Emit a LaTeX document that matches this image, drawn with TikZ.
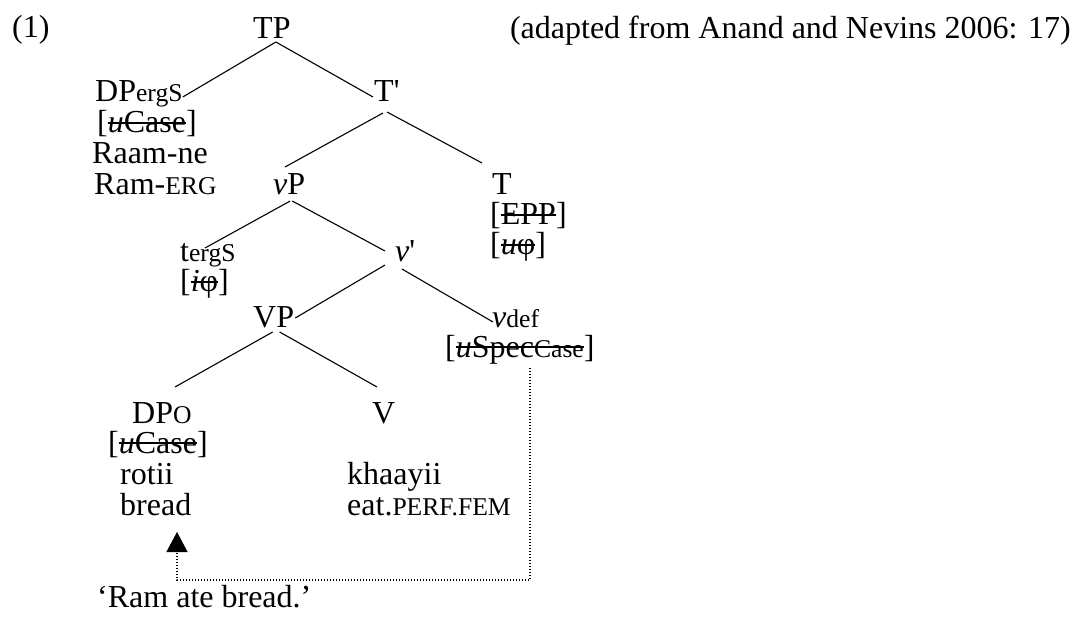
\documentclass[tikz,border=0pt]{standalone}
\usepackage{fontspec}
\setmainfont{Liberation Serif}
\usetikzlibrary{arrows.meta}
\newsavebox\stkbox
\newcommand\strk[1]{\sbox\stkbox{#1}\rlap{\usebox\stkbox}\rule[0.28em]{\wd\stkbox}{1.7pt}}
\newcommand\smc[1]{{\fontsize{25.6}{25.6}\selectfont #1}}
\begin{document}
\begin{tikzpicture}[x=1pt,y=-1pt,
  lbl/.style={inner sep=0pt, anchor=base west, font=\fontsize{32}{32}\selectfont},
  branch/.style={line width=1.1pt},
  dotline/.style={line width=1.3pt, dash pattern=on 1.3pt off 1.7pt}]
\useasboundingbox (0,0) rectangle (1075,617);
% header
\node[lbl] (ex) at (12,38) {(1)};
\node[lbl] (TP) at (253,39) {TP};
\node[lbl, anchor=base east] (src) at (1071,39) {(adapted from Anand and Nevins 2006: 17)};
% DP erg
\node[lbl] (DPe) at (95,102) {DP\smc{ergS}};
\node[lbl] (uc1) at (97,133) {[\strk{\textit{u}Case}]};
\node[lbl] (raam) at (92,164) {Raam-ne};
\node[lbl] (ramerg) at (94,195) {Ram-\smc{ERG}};
% T'
\node[lbl] (Tbar) at (374,102) {T\textquotesingle};
% vP, T
\node[lbl] (vP) at (273,195) {\textit{v}P};
\node[lbl] (T) at (492,195) {T};
\node[lbl] (epp) at (490,225) {[\strk{EPP}]};
\node[lbl] (uphi) at (490,255) {[\strk{\textit{u}φ}]};
% t erg, v'
\node[lbl] (terg) at (180,262) {t\smc{ergS}};
\node[lbl] (iphi) at (180,292) {[\strk{\textit{i}φ}]};
\node[lbl] (vbar) at (395,262) {\textit{v}\textquotesingle};
% VP, vdef
\node[lbl] (VP) at (253,327) {VP};
\node[lbl] (vdef) at (492,327) {\textit{v}\smc{def}};
\node[lbl] (usc) at (445,357) {[\strk{\textit{u}Spec\smc{Case}}]};
% DPo, V
\node[lbl] (DPo) at (132,423) {DP\smc{O}};
\node[lbl] (uc2) at (108,453) {[\strk{\textit{u}Case}]};
\node[lbl] (rotii) at (120,484) {rotii};
\node[lbl] (bread) at (120,515) {bread};
\node[lbl] (V) at (372,423) {V};
\node[lbl] (khaa) at (347,484) {khaayii};
\node[lbl] (eat) at (347,515) {eat.\smc{PERF.FEM}};
\node[lbl] (trans) at (97,607) {‘Ram ate bread.’};
% branches
\draw[branch] ([shift={(4,3)}]TP.base) -- ([shift={(0,-5)}]DPe.base east);
\draw[branch] ([shift={(4,3)}]TP.base) -- ([shift={(-1,-5)}]Tbar.base west);
\draw[branch] ([shift={(9,11)}]Tbar.base west) -- ([shift={(12,-28)}]vP.base west);
\draw[branch] ([shift={(13,10)}]Tbar.base west) -- ([shift={(-10,-32)}]T.base west);
\draw[branch] ([shift={(1,6)}]vP.base) -- ([shift={(25,-14)}]terg.base west);
\draw[branch] ([shift={(3,6)}]vP.base) -- ([shift={(-10,-11)}]vbar.base west);
\draw[branch] ([shift={(-10,3)}]vbar.base west) -- ([shift={(1,-9)}]VP.base east);
\draw[branch] ([shift={(7,7)}]vbar.base west) -- ([shift={(1,-5)}]vdef.base west);
\draw[branch] ([shift={(-1,5)}]VP.base) -- ([shift={(43,-36)}]DPo.base west);
\draw[branch] ([shift={(6,5)}]VP.base) -- ([shift={(5,-36)}]V.base west);
% dotted agreement path
\draw[dotline, -{Triangle[width=21pt,length=20pt]}]
  ([shift={(85,11)}]usc.base west) |- ([shift={(57,65)}]bread.base west)
  -- ([shift={(57,17)}]bread.base west);
\end{tikzpicture}
\end{document}
